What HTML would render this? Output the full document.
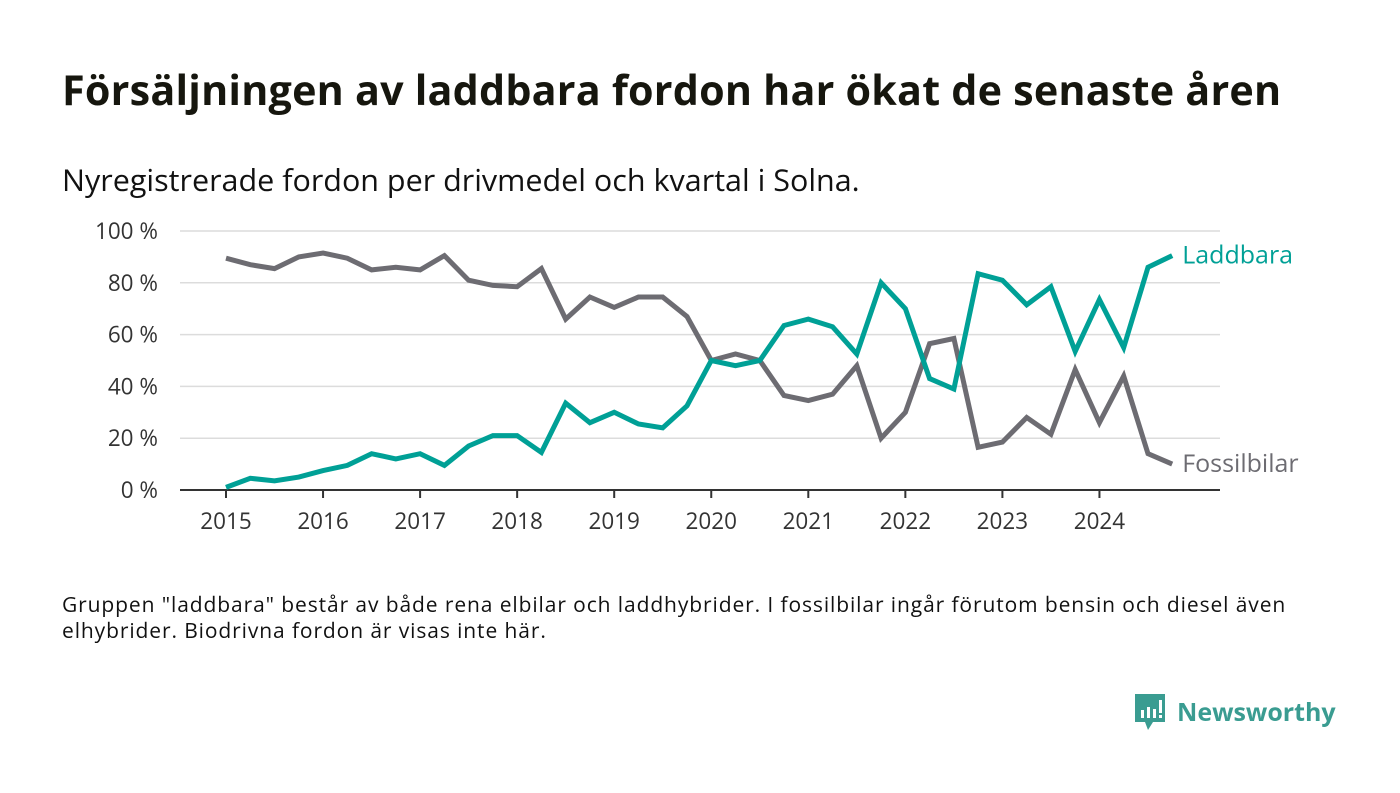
<!DOCTYPE html>
<html><head><meta charset="utf-8"><style>
body{margin:0;background:#fff;width:1400px;height:793px;overflow:hidden;font-family:"Open Sans","Liberation Sans","DejaVu Sans",sans-serif;color:#111}
#title{position:absolute;left:62px;top:62px;font-size:41.3px;font-weight:bold;color:#16160e;margin:0;letter-spacing:0.2px}
#sub{position:absolute;left:62px;top:158px;font-size:30.5px;color:#111}
#note{position:absolute;left:62px;top:592px;font-size:21px;line-height:26px;color:#111;width:1330px;letter-spacing:0.9px;white-space:nowrap}
#logo{position:absolute;left:1133px;top:692px;display:flex;align-items:center}
#logo span{font-size:25px;font-weight:bold;color:#3a9c91;margin-left:10px}
svg text{font-family:"Open Sans","Liberation Sans","DejaVu Sans",sans-serif}
</style></head><body>
<h1 id="title">Försäljningen av laddbara fordon har ökat de senaste åren</h1>
<div id="sub">Nyregistrerade fordon per drivmedel och kvartal i Solna.</div>
<svg id="chart" width="1400" height="793" style="position:absolute;left:0;top:0"></svg>
<div id="note">Gruppen "laddbara" består av både rena elbilar och laddhybrider. I fossilbilar ingår förutom bensin och diesel även<br>elhybrider. Biodrivna fordon är visas inte här.</div>
<div id="logo">
<svg width="34" height="40" viewBox="0 0 34 40"><path d="M2 2h30v28H20l-5 8-3-8H2z" fill="#3a9c91"/><rect x="8" y="18" width="3" height="8" fill="#fff"/><rect x="14" y="15" width="3" height="11" fill="#fff"/><rect x="20" y="17" width="3" height="9" fill="#fff"/><rect x="26" y="8" width="3" height="13" fill="#fff"/><rect x="26" y="23" width="3" height="3" fill="#fff"/></svg>
<span>Newsworthy</span></div>
<script>
const years=[2015,2016,2017,2018,2019,2020,2021,2022,2023,2024];
const yTicks=[0,20,40,60,80,100];
const laddbara=[1,4.5,3.5,5,7.5,9.5,14,12,14,9.5,17,21,21,14.5,33.5,26,30,25.5,24,32.5,50,48,50,63.5,66,63,52.5,80,70,43,39,83.5,81,71.5,78.5,53.5,73.5,55,86,90.5];
const fossil=[89.5,87,85.5,90,91.5,89.5,85,86,85,90.5,81,79,78.5,85.5,66,74.5,70.5,74.5,74.5,67,50,52.5,50,36.5,34.5,37,48,20,30,56.5,58.5,16.5,18.5,28,21.5,46.5,26,44,14,10];
const svg=document.getElementById('chart');const NS='http://www.w3.org/2000/svg';
const X=t=>226+(t-2015)*97.05;const Y=v=>490-v*2.59;
function mk(tag,a){const e=document.createElementNS(NS,tag);for(const k in a)e.setAttribute(k,a[k]);svg.appendChild(e);return e;}
yTicks.forEach(v=>{
 if(v>0){const g=mk('line',{x1:180,x2:1220,y1:Y(v),y2:Y(v),stroke:'#dcdcdc','stroke-width':1.5});
 
 }
 const t=mk('text',{x:158,y:Y(v)+8,'text-anchor':'end','font-size':22.5,fill:'#333'});t.textContent=v+' %';
 
 
});
const ax=mk('line',{x1:180,x2:1220,y1:490,y2:490,stroke:'#333','stroke-width':2});


years.forEach(yr=>{
 const tk=mk('line',{x1:X(yr),x2:X(yr),y1:490,y2:498,stroke:'#333','stroke-width':2});
 
 
 const t=mk('text',{x:X(yr),y:529,'text-anchor':'middle','font-size':22.5,fill:'#333'});t.textContent=yr;
 
 
});
function line(arr,col,name,label,dy){
 const d=arr.map((v,i)=>(i?'L':'M')+X(2015+i/4).toFixed(1)+','+Y(v).toFixed(1)).join('');
 const p=mk('path',{d:d,fill:'none',stroke:col,'stroke-width':5,'stroke-linejoin':'miter'});
 
 
 const lx=X(2015+(arr.length-1)/4)+10,ly=Y(arr[arr.length-1])+dy;
 const t=mk('text',{x:lx,y:ly,'font-size':25,fill:col});t.textContent=label;
 
 
}
line(fossil,'#6d6c72','fossilbilar-line','Fossilbilar',8);
line(laddbara,'#00a096','laddbara-line','Laddbara',8);
</script>
</body></html>
